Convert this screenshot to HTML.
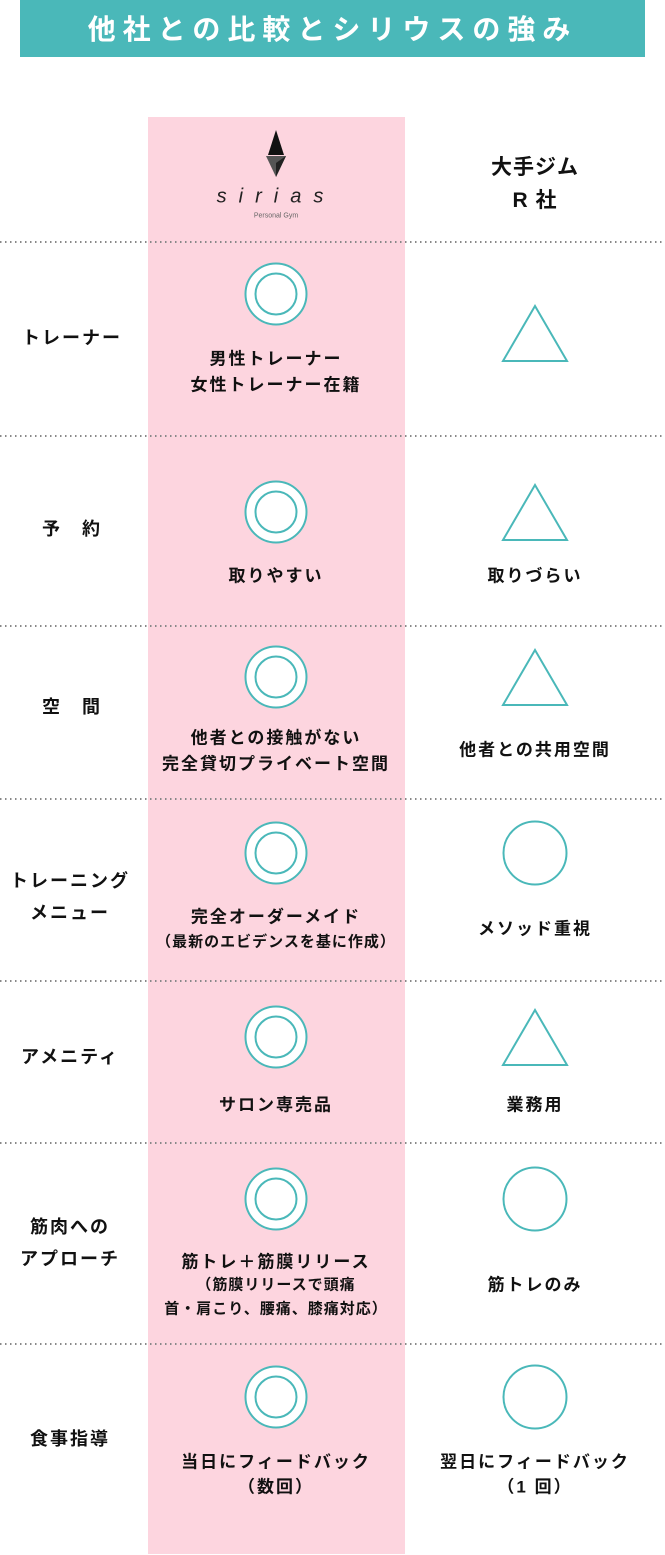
<!DOCTYPE html>
<html><head><meta charset="utf-8"><style>
body{margin:0;width:665px;height:1555px;position:relative;background:#fff;font-family:"Liberation Sans","Noto Sans CJK JP",sans-serif;overflow:hidden}
.hd{position:absolute;left:20px;top:0;width:625px;height:57px;background:#4ab8b9;color:#fff;font-size:28px;font-weight:bold;letter-spacing:7px;text-align:center;line-height:60px}
.pink{position:absolute;left:148px;top:117px;width:257px;height:1437px;background:#fdd5df}
.dl{position:absolute;left:0;width:665px;height:2px;background:repeating-linear-gradient(90deg,#888 0 1.5px,transparent 1.5px 5px)}
.t{position:absolute;transform:translate(-50%,-50%);white-space:nowrap;font-weight:bold;font-size:17px;color:#111;letter-spacing:2px;text-align:center}
.s{font-size:15px;letter-spacing:1px}
.dc{position:absolute;width:59px;height:59px;border:2px solid #4ab8b9;border-radius:50%;transform:translate(-50%,-50%);background:#fff}
.dc::after{content:"";position:absolute;left:8px;top:8px;width:39px;height:39px;border:2px solid #4ab8b9;border-radius:50%}
.c{position:absolute;width:61px;height:61px;border:2px solid #4ab8b9;border-radius:50%;transform:translate(-50%,-50%)}
svg.tr{position:absolute}
</style></head><body>
<div class="hd">他社との比較とシリウスの強み</div>
<div class="pink"></div>
<div class="dl" style="top:241px"></div>
<div class="dl" style="top:435px"></div>
<div class="dl" style="top:625px"></div>
<div class="dl" style="top:798px"></div>
<div class="dl" style="top:980px"></div>
<div class="dl" style="top:1142px"></div>
<div class="dl" style="top:1343px"></div>

<svg style="position:absolute;left:262px;top:130px" width="28" height="50" viewBox="0 0 28 50">
<polygon points="14,0 22,25 6,25" fill="#111"/>
<polygon points="4,26 24,26 14,47" fill="#555"/>
<polygon points="14,33 24,26 14,47" fill="#222"/>
</svg>
<div class="t" style="left:276px;top:197px;font-weight:normal;font-size:20px;letter-spacing:12px;font-style:italic;color:#222">sirias</div>
<div class="t" style="left:276px;top:216px;font-weight:normal;font-size:7px;letter-spacing:0;color:#666">Personal Gym</div>
<div class="t" style="left:535px;top:166px;font-size:21px;letter-spacing:1px">大手ジム</div>
<div class="t" style="left:535px;top:199px;font-size:21px;letter-spacing:1px">R 社</div>

<div class="t" style="left:72px;top:337px;font-size:18px">トレーナー</div>
<div class="dc" style="left:276px;top:294px"></div>
<div class="t" style="left:276px;top:357px">男性トレーナー</div>
<div class="t" style="left:276px;top:383px">女性トレーナー在籍</div>
<svg class="tr" style="left:500px;top:304px" width="70" height="60"><polygon points="35,2 67,57 3,57" fill="none" stroke="#4ab8b9" stroke-width="2"/></svg>

<div class="t" style="left:72px;top:528px;font-size:18px">予　約</div>
<div class="dc" style="left:276px;top:512px"></div>
<div class="t" style="left:276px;top:574px">取りやすい</div>
<svg class="tr" style="left:500px;top:483px" width="70" height="60"><polygon points="35,2 67,57 3,57" fill="none" stroke="#4ab8b9" stroke-width="2"/></svg>
<div class="t" style="left:535px;top:574px">取りづらい</div>

<div class="t" style="left:72px;top:706px;font-size:18px">空　間</div>
<div class="dc" style="left:276px;top:677px"></div>
<div class="t" style="left:276px;top:736px">他者との接触がない</div>
<div class="t" style="left:276px;top:762px">完全貸切プライベート空間</div>
<svg class="tr" style="left:500px;top:648px" width="70" height="60"><polygon points="35,2 67,57 3,57" fill="none" stroke="#4ab8b9" stroke-width="2"/></svg>
<div class="t" style="left:535px;top:748px">他者との共用空間</div>

<div class="t" style="left:70px;top:880px;font-size:18px">トレーニング</div>
<div class="t" style="left:70px;top:912px;font-size:18px">メニュー</div>
<div class="dc" style="left:276px;top:853px"></div>
<div class="t" style="left:276px;top:915px">完全オーダーメイド</div>
<div class="t s" style="left:276px;top:941px">（最新のエビデンスを基に作成）</div>
<div class="c" style="left:535px;top:853px"></div>
<div class="t" style="left:535px;top:927px">メソッド重視</div>

<div class="t" style="left:70px;top:1056px;font-size:18px">アメニティ</div>
<div class="dc" style="left:276px;top:1037px"></div>
<div class="t" style="left:276px;top:1103px">サロン専売品</div>
<svg class="tr" style="left:500px;top:1008px" width="70" height="60"><polygon points="35,2 67,57 3,57" fill="none" stroke="#4ab8b9" stroke-width="2"/></svg>
<div class="t" style="left:535px;top:1103px">業務用</div>

<div class="t" style="left:70px;top:1226px;font-size:18px">筋肉への</div>
<div class="t" style="left:70px;top:1258px;font-size:18px">アプローチ</div>
<div class="dc" style="left:276px;top:1199px"></div>
<div class="t" style="left:276px;top:1260px">筋トレ＋筋膜リリース</div>
<div class="t s" style="left:276px;top:1284px">（筋膜リリースで頭痛</div>
<div class="t s" style="left:276px;top:1308px">首・肩こり、腰痛、膝痛対応）</div>
<div class="c" style="left:535px;top:1199px"></div>
<div class="t" style="left:535px;top:1283px">筋トレのみ</div>

<div class="t" style="left:70px;top:1438px;font-size:18px">食事指導</div>
<div class="dc" style="left:276px;top:1397px"></div>
<div class="t" style="left:276px;top:1460px">当日にフィードバック</div>
<div class="t" style="left:276px;top:1485px">（数回）</div>
<div class="c" style="left:535px;top:1397px"></div>
<div class="t" style="left:535px;top:1460px">翌日にフィードバック</div>
<div class="t" style="left:535px;top:1485px">（1 回）</div>
</body></html>
